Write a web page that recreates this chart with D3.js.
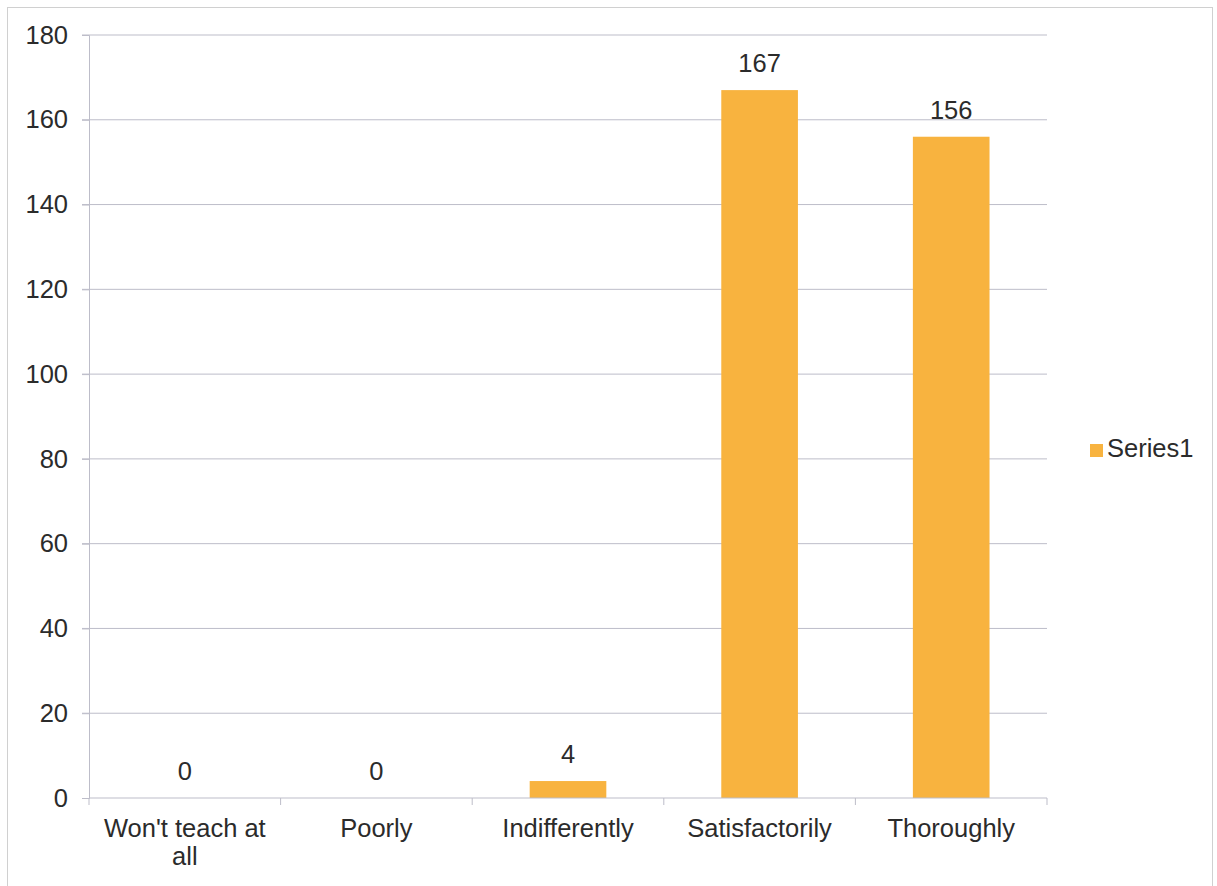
<!DOCTYPE html>
<html><head><meta charset="utf-8">
<script src="https://cdn.jsdelivr.net/npm/d3@7"></script>
<style>body{margin:0;background:#fff;}svg{display:block;font-family:"Liberation Sans",Arial,sans-serif;}</style>
</head><body>
<svg id="c" width="1217" height="886"></svg>
<script>
const categories = ["Won't teach at all", "Poorly", "Indifferently", "Satisfactorily", "Thoroughly"];
const categoryLines = [["Won't teach at", "all"], ["Poorly"], ["Indifferently"], ["Satisfactorily"], ["Thoroughly"]];
const values = [0, 0, 4, 167, 156];
const yTicks = [0, 20, 40, 60, 80, 100, 120, 140, 160, 180];
const seriesName = "Series1";

const svg = d3.select("#c");
const m = {left: 89, right: 1047, top: 35, bottom: 798};
const x = d3.scaleBand().domain(categories).range([m.left, m.right]).paddingInner(0.6).paddingOuter(0.3);
const xb = d3.scaleBand().domain(categories).range([m.left, m.right]);
const y = d3.scaleLinear().domain([0, 180]).range([m.bottom, m.top]);
const orange = "#F8B33F", grid = "#BDBDC9", txt = "#2b2b2b", fs = 25.5;

// outer border
svg.append("rect").attr("x", 7.5).attr("y", 7.5).attr("width", 1205).attr("height", 900)
  .attr("fill", "none").attr("stroke", "#d0d0d0");

// gridlines
svg.append("g").selectAll("line").data(yTicks.filter(d => d > 0)).join("line")
  .attr("x1", m.left - 7).attr("x2", m.right).attr("y1", d => y(d)).attr("y2", d => y(d))
  .attr("stroke", grid).attr("stroke-width", 1);

// y axis
const ya = svg.append("g").attr("transform", `translate(${m.left},0)`)
  .call(d3.axisLeft(y).tickValues(yTicks).tickSize(7).tickPadding(14));
ya.select(".domain").attr("stroke", grid);
ya.selectAll(".tick line").attr("stroke", grid);
ya.selectAll("text").attr("font-size", fs).attr("fill", txt).attr("font-family", "Liberation Sans, Arial, sans-serif");

// bars
svg.append("g").selectAll("rect").data(values).join("rect")
  .attr("x", (d, i) => x(categories[i])).attr("width", x.bandwidth())
  .attr("y", d => y(d)).attr("height", d => y(0) - y(d)).attr("fill", orange);

// x axis
svg.append("line").attr("x1", m.left).attr("x2", m.right).attr("y1", y(0)).attr("y2", y(0)).attr("stroke", grid);
const bounds = categories.map(c => xb(c)).concat([m.right]);
svg.append("g").selectAll("line").data(bounds).join("line")
  .attr("x1", d => d).attr("x2", d => d).attr("y1", y(0)).attr("y2", y(0) + 7).attr("stroke", grid);

// category labels
const cl = svg.append("g").selectAll("text").data(categoryLines).join("text")
  .attr("x", (d, i) => xb(categories[i]) + xb.bandwidth() / 2).attr("y", 837)
  .attr("text-anchor", "middle").attr("font-size", fs).attr("fill", txt);
cl.each(function(lines) {
  const t = d3.select(this);
  lines.forEach((l, j) => t.append("tspan").attr("x", t.attr("x")).attr("dy", j === 0 ? 0 : 28).text(l));
});

// value labels
svg.append("g").selectAll("text").data(values).join("text")
  .attr("x", (d, i) => xb(categories[i]) + xb.bandwidth() / 2)
  .attr("y", d => y(d) - 18).attr("text-anchor", "middle")
  .attr("font-size", fs).attr("fill", txt).text(d => d);

// legend
svg.append("rect").attr("x", 1090).attr("y", 444).attr("width", 13).attr("height", 13).attr("fill", orange);
svg.append("text").attr("x", 1107).attr("y", 457).attr("font-size", fs).attr("fill", txt).text(seriesName);
</script>
</body></html>
